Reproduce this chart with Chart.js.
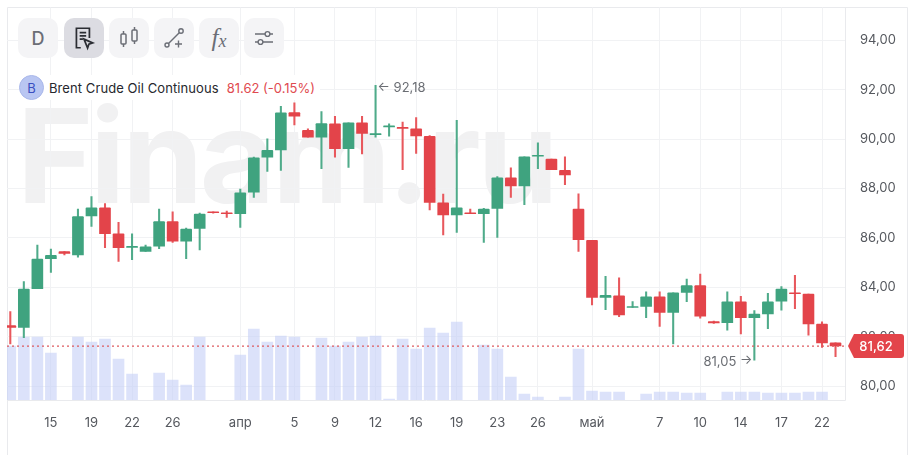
<!DOCTYPE html>
<html>
<head>
<meta charset="utf-8">
<title>Brent Crude Oil Continuous</title>
<script src="https://cdn.jsdelivr.net/npm/chart.js@4/dist/chart.umd.min.js"></script>
<style>
    html, body { margin: 0; padding: 0; background: #fff; }
    body { width: 917px; height: 455px; overflow: hidden; position: relative; font-family: Inter, sans-serif; }
    #watermark { position: absolute; left: 17px; top: 77px; font-size: 130px; line-height: 158px; font-weight: 700; color: #f1f1f2; white-space: nowrap; letter-spacing: -3.2px; }
    canvas { position: absolute; left: 0; top: 0; }
    .tool { position: absolute; top: 18px; width: 40px; height: 40px; border-radius: 10px; background: #f4f4f6; display: flex; align-items: center; justify-content: center; color: #6b6e76; }
    .tool.active { background: #dcdce2; color: #2b2d33; }
    .tool svg { display: block; }
    #legend { position: absolute; left: 19px; top: 75px; height: 25px; display: flex; align-items: center; background: #fff; padding-right: 5px; font-size: 13px; white-space: nowrap; }
    #badge { width: 25px; height: 25px; border-radius: 50%; background: #b9c6f2; color: #3a4fc0; font-size: 13px; display: flex; align-items: center; justify-content: center; box-sizing: border-box; border: 1px solid #a9b7ea; }
    #name { margin-left: 5px; color: #26282d; letter-spacing: 0.08px; }
    #quote { margin-left: 8px; color: #df4a50; }
</style>
</head>
<body>
<div id="watermark">Finam.ru</div>
<canvas id="chart" width="917" height="455"></canvas>

<div class="tool" style="left:18px;font-size:18px;font-weight:500">D</div>
<div class="tool active" style="left:64px">
    <svg width="26" height="26" viewBox="0 0 24 24" fill="none" stroke="currentColor" stroke-width="1.6"><path d="M9 21H5V3h12v9"/><path d="M8 7h6M8 10h6M8 13h3"/><path d="M12 13l8 3.5-3.5 1.2-1.2 3.5z"/></svg>
</div>
<div class="tool" style="left:109px">
    <svg width="24" height="24" viewBox="0 0 24 24" fill="none" stroke="currentColor" stroke-width="1.5"><rect x="4" y="8" width="5" height="10" rx="1"/><path d="M6.5 5v3M6.5 18v3"/><rect x="15" y="4" width="5" height="11" rx="1"/><path d="M17.5 1v3M17.5 15v3"/></svg>
</div>
<div class="tool" style="left:154px">
    <svg width="24" height="24" viewBox="0 0 24 24" fill="none" stroke="currentColor" stroke-width="1.4"><circle cx="5" cy="19" r="2"/><circle cx="19" cy="5" r="2.2"/><path d="M6.5 17.5L17.5 6.5"/><path d="M13 18h7M16.5 14.5v7"/></svg>
</div>
<div class="tool" style="left:199px;font-family:'Liberation Serif',serif;font-style:italic;font-size:25px">f<span style="font-size:18px;margin-top:7px">x</span></div>
<div class="tool" style="left:244px">
    <svg width="24" height="24" viewBox="0 0 24 24" fill="none" stroke="currentColor" stroke-width="1.4"><path d="M3 8h10M18 8h3M3 16h3M11 16h10"/><circle cx="15.5" cy="8" r="2.4"/><circle cx="8.5" cy="16" r="2.4"/></svg>
</div>

<div id="legend">
    <div id="badge">B</div>
    <span id="name">Brent Crude Oil Continuous</span>
    <span id="quote">81.62 (-0.15%)</span>
</div>

<script>
// Daily slots along the time axis, left to right
var tickSlots = [3, 6, 9, 12, 17, 21, 24, 27, 30, 33, 36, 39, 43, 48, 51, 54, 57, 60];
var tickLabels = ['15', '19', '22', '26', 'апр', '5', '9', '12', '16', '19', '23', '26', 'май', '7', '10', '14', '17', '22'];
var priceTicks = [80, 82, 84, 86, 88, 90, 92, 94];

var opens = [82.45, 82.37, 83.94, 85.16, 85.45, 85.31, 86.89, 87.22, 86.17, 85.62, 85.45, 85.67, 86.66, 85.87, 86.39, 87.06,
    87.02, 86.98, 87.85, 89.27, 89.57, 91.08, 90.36, 90.08, 90.62, 89.62, 90.66, 90.18, 90.50, 90.48, 90.42, 90.12,
    87.42, 86.93, 87.02, 86.98, 87.20, 88.44, 88.11, 89.31, 89.20, 88.74, 87.17, 85.90, 83.59, 83.65, 83.18, 83.22,
    83.61, 82.98, 83.79, 84.07, 82.61, 82.57, 83.41, 82.77, 82.92, 83.44, 83.78, 83.72, 82.51, 81.75];
var closes = [82.37, 83.93, 85.14, 85.29, 85.37, 86.87, 87.22, 86.17, 85.61, 85.66, 85.64, 86.66, 85.87, 86.36, 86.97, 87.02,
    86.98, 87.83, 89.25, 89.55, 91.07, 90.93, 90.08, 90.63, 89.62, 90.66, 90.23, 90.23, 90.54, 90.44, 90.13, 87.44,
    86.93, 87.22, 86.98, 87.17, 88.44, 88.11, 89.29, 89.35, 88.77, 88.55, 85.93, 83.59, 83.67, 82.88, 83.22, 83.61,
    82.98, 83.78, 84.07, 82.83, 82.56, 83.41, 82.77, 82.91, 83.41, 83.93, 83.74, 82.52, 81.75, 81.62];
var highs = [83.02, 84.23, 85.71, 85.55, 85.45, 87.17, 87.68, 87.39, 86.63, 86.17, 85.71, 87.17, 87.06, 86.40, 87.01, 87.06,
    87.09, 87.98, 89.28, 90.02, 91.33, 91.47, 90.42, 91.12, 90.93, 90.66, 90.93, 92.18, 90.62, 90.69, 90.88, 90.15,
    87.78, 90.77, 87.17, 87.20, 88.49, 88.84, 89.29, 89.85, 89.20, 89.29, 87.79, 85.90, 84.44, 84.38, 83.42, 83.82,
    83.82, 83.78, 84.33, 84.54, 82.63, 83.82, 83.63, 83.06, 83.76, 84.03, 84.48, 83.72, 82.60, 81.75];
var lows = [81.71, 81.96, 83.94, 84.60, 85.31, 85.22, 86.47, 85.61, 85.05, 85.12, 85.45, 85.56, 85.82, 85.16, 85.51, 87.00,
    86.83, 86.43, 87.64, 88.70, 88.74, 90.58, 90.08, 88.81, 89.27, 88.86, 89.40, 90.08, 90.12, 88.77, 89.42, 87.14,
    86.12, 86.22, 86.98, 85.82, 86.02, 87.64, 87.35, 88.81, 88.77, 88.16, 85.45, 83.29, 83.09, 82.81, 83.18, 82.77,
    82.41, 81.71, 83.42, 82.75, 82.54, 82.26, 82.11, 81.05, 82.32, 83.07, 83.13, 82.06, 81.56, 81.19];
var volumes = [54, 63, 63, 47, null, 63, 58, 61, 41, 26, null, 27, 20, 15, 63, null,
    null, 45, 71, 58, 64, 63, null, 62, 54, 58, 63, 64, 1, 61, 51, 72,
    67, 78, null, 55, 51, 23, 6, 3, null, 3, 51, 9, 8, 8, null, 6,
    8, 8, 7, 7, null, 8, 8, 8, 7, 7, 7, 8, 8, null];

var lastPrice = 81.62;
var peakSlot = 27, peakPrice = 92.18;
var troughSlot = 55, troughPrice = 81.05;

var GREEN = '#3fa37f';
var RED = '#e3444a';
var GRID = '#f1f2f4';
var FRAME = '#e9eaed';
var TEXT = '#55585e';

function priceText(v) {
    return v.toFixed(2).replace('.', ',');
}

function candleColor(ctx) {
    return closes[ctx.dataIndex] >= opens[ctx.dataIndex] ? GREEN : RED;
}

function wickColor(ctx) {
    return closes[ctx.dataIndex] >= opens[ctx.dataIndex] ? '#4fab8a' : '#e8585d';
}

// Frame lines around the plot, and the peak/trough notes with the price tag
var overlayPlugin = {
    id: 'overlay',
    beforeDraw: function(chart) {
        var c = chart.ctx, a = chart.chartArea;
        c.save();
        c.strokeStyle = FRAME;
        c.lineWidth = 1;
        c.beginPath();
        c.moveTo(7.5, 455); c.lineTo(7.5, 7.5); c.lineTo(907.5, 7.5); c.lineTo(907.5, 455);
        c.moveTo(a.right + 0.5, 7.5); c.lineTo(a.right + 0.5, a.bottom + 0.5); c.lineTo(7.5, a.bottom + 0.5);
        c.stroke();
        c.restore();
    },
    afterDraw: function(chart) {
        var c = chart.ctx, x = chart.scales.x, y = chart.scales.y;
        c.save();
        c.font = '13px Inter, sans-serif';
        c.fillStyle = '#6a6d73';
        c.textBaseline = 'middle';
        c.textAlign = 'left';
        c.fillText('←', x.getPixelForValue(peakSlot) + 2, y.getPixelForValue(peakPrice) + 2);
        c.fillText(priceText(peakPrice), x.getPixelForValue(peakSlot) + 18, y.getPixelForValue(peakPrice) + 3);
        c.textAlign = 'right';
        c.fillText('→', x.getPixelForValue(troughSlot) - 2, y.getPixelForValue(troughPrice));
        c.fillText(priceText(troughPrice), x.getPixelForValue(troughSlot) - 18, y.getPixelForValue(troughPrice) + 2);

        var py = y.getPixelForValue(lastPrice);
        c.fillStyle = RED;
        c.beginPath();
        c.moveTo(848, py);
        c.lineTo(854, py - 12);
        c.lineTo(901, py - 12);
        c.quadraticCurveTo(904, py - 12, 904, py - 9);
        c.lineTo(904, py + 9);
        c.quadraticCurveTo(904, py + 12, 901, py + 12);
        c.lineTo(854, py + 12);
        c.closePath();
        c.fill();
        c.fillStyle = '#fff';
        c.font = '500 13px Inter, sans-serif';
        c.textAlign = 'center';
        c.fillText(priceText(lastPrice), 876, py + 1);
        c.restore();
    }
};

document.addEventListener('DOMContentLoaded', function() {
    var xMin = -0.244, xMax = 61.7;

    var bodyData = opens.map(function(o, i) { return { x: i, y: [o, closes[i]] }; });
    var wickData = highs.map(function(h, i) { return { x: i, y: [lows[i], h] }; });
    var volumeData = volumes.map(function(v, i) { return { x: i, y: v }; });

    new Chart(document.getElementById('chart').getContext('2d'), {
        type: 'bar',
        data: {
            datasets: [
                { type: 'line', data: [{ x: xMin, y: lastPrice }, { x: xMax, y: lastPrice }], borderColor: '#de5a5f', borderWidth: 1.2, borderDash: [2, 3], pointRadius: 0, order: 1 },
                { data: bodyData, backgroundColor: candleColor, maxBarThickness: 11, borderRadius: 1, grouped: false, barPercentage: 1, categoryPercentage: 1, order: 2 },
                { data: wickData, backgroundColor: wickColor, maxBarThickness: 1.4, grouped: false, barPercentage: 1, categoryPercentage: 1, order: 3 },
                { data: volumeData, yAxisID: 'yVol', backgroundColor: 'rgba(196, 207, 247, 0.6)', maxBarThickness: 11, grouped: false, barPercentage: 1, categoryPercentage: 1, order: 4 }
            ]
        },
        options: {
            responsive: false,
            animation: false,
            layout: { padding: { left: 7, top: 7.5, right: 0, bottom: 0 } },
            plugins: { legend: { display: false }, tooltip: { enabled: false } },
            scales: {
                x: {
                    type: 'linear',
                    min: xMin,
                    max: xMax,
                    offset: false,
                    border: { display: false },
                    grid: { offset: false, color: GRID, drawTicks: false },
                    afterBuildTicks: function(scale) {
                        scale.ticks = tickSlots.map(function(v) { return { value: v }; });
                    },
                    afterFit: function(scale) {
                        scale.height = 55;
                        scale.paddingLeft = 0;
                        scale.paddingRight = 0;
                    },
                    ticks: {
                        autoSkip: false,
                        maxRotation: 0,
                        padding: 15,
                        color: TEXT,
                        font: { family: 'Inter, sans-serif', size: 13 },
                        callback: function(v) { return tickLabels[tickSlots.indexOf(v)]; }
                    }
                },
                y: {
                    position: 'right',
                    min: 79.433,
                    max: 95.337,
                    border: { display: false },
                    grid: { color: GRID, drawTicks: false },
                    afterBuildTicks: function(scale) {
                        scale.ticks = priceTicks.map(function(v) { return { value: v }; });
                    },
                    afterFit: function(scale) {
                        scale.width = 72;
                        scale.paddingTop = 0;
                        scale.paddingBottom = 0;
                    },
                    ticks: {
                        padding: 15,
                        color: TEXT,
                        font: { family: 'Inter, sans-serif', size: 13 },
                        callback: function(v) { return priceText(v); }
                    }
                },
                yVol: {
                    display: false,
                    min: 0,
                    max: 392.5
                }
            }
        },
        plugins: [overlayPlugin]
    });
});
</script>
</body>
</html>
